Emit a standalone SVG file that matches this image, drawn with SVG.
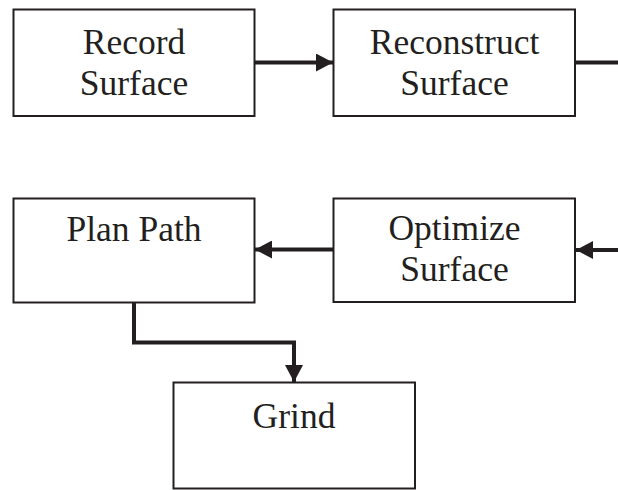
<svg xmlns="http://www.w3.org/2000/svg" width="618" height="490" viewBox="0 0 618 490">
  <style>
    .box { fill: #ffffff; stroke: #231f20; stroke-width: 2; }
    .label { font-family: "Liberation Serif", "Times New Roman", serif; font-size: 35.5px; fill: #231f20; text-anchor: middle; }
    .wire { fill: none; stroke: #231f20; stroke-width: 4; }
  </style>
  <defs>
    <marker id="arrow" markerUnits="userSpaceOnUse" markerWidth="18" markerHeight="18" refX="17" refY="9" orient="auto">
      <path d="M0,0 L17,9 L0,18 Z" fill="#231f20"/>
    </marker>
  </defs>
  <rect width="618" height="490" fill="#ffffff"/>

  <g id="connectors">
    <line class="wire" x1="255" y1="62.5" x2="333" y2="62.5" marker-end="url(#arrow)"/>
    <line class="wire" x1="575" y1="62.5" x2="618" y2="62.5"/>
    <line class="wire" x1="618" y1="250" x2="576" y2="250" marker-end="url(#arrow)"/>
    <line class="wire" x1="333" y1="249.5" x2="255" y2="249.5" marker-end="url(#arrow)"/>
    <polyline class="wire" points="134,302 134,342.5 294,342.5 294,382" marker-end="url(#arrow)"/>
  </g>

  <g id="record-surface">
    <rect class="box" x="13.5" y="9.5" width="241" height="106.5"/>
    <text class="label" x="134" y="54">Record</text>
    <text class="label" x="134" y="95">Surface</text>
  </g>

  <g id="reconstruct-surface">
    <rect class="box" x="333.5" y="9.5" width="241.5" height="106.5"/>
    <text class="label" x="454.5" y="54">Reconstruct</text>
    <text class="label" x="454.5" y="95">Surface</text>
  </g>

  <g id="plan-path">
    <rect class="box" x="13.5" y="198.5" width="241" height="104"/>
    <text class="label" x="134" y="241">Plan Path</text>
  </g>

  <g id="optimize-surface">
    <rect class="box" x="333.5" y="198.5" width="241.5" height="103.5"/>
    <text class="label" x="454.5" y="240">Optimize</text>
    <text class="label" x="454.5" y="281">Surface</text>
  </g>

  <g id="grind">
    <rect class="box" x="173.5" y="382.5" width="241.5" height="106"/>
    <text class="label" x="294" y="428">Grind</text>
  </g>
</svg>
